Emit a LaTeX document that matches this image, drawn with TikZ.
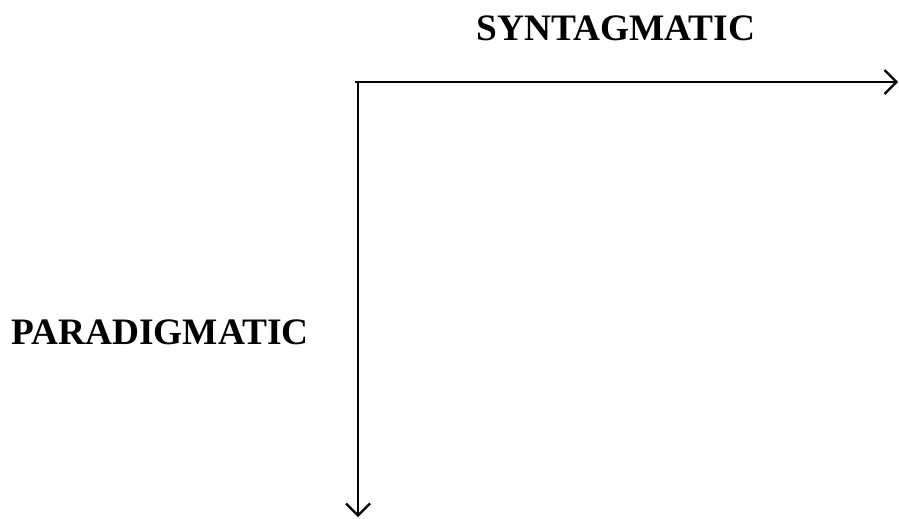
\documentclass[tikz,border=0pt]{standalone}
\usepackage{fontspec}
\setmainfont{Liberation Serif}
\usepackage{tikz}
\usetikzlibrary{arrows.meta,positioning}
\definecolor{axInk}{HTML}{000000}

\begin{document}
\begin{tikzpicture}[x=0.75pt,y=-0.75pt,
    axis/.style={draw=axInk,line width=2pt,-{Straight Barb[length=9pt,width=18pt,line width=1.6pt]}},
    axlabel/.style={font=\fontsize{28}{31}\selectfont\bfseries,text=axInk,inner sep=0pt}]
  \useasboundingbox (0,0) rectangle (899,518);

  \coordinate (synStart) at (355,82);
  \coordinate (synEnd) at (898,82);
  \coordinate (parStart) at (358,82);
  \coordinate (parEnd) at (358,517);

  \draw[axis] (synStart) -- (synEnd);
  \draw[axis] (parStart) -- (parEnd);

  \node[axlabel,anchor=base] (syn) at (616,40) {SYNTAGMATIC};
  \node[axlabel,anchor=base] (par) at (160,344) {PARADIGMATIC};
\end{tikzpicture}
\end{document}
